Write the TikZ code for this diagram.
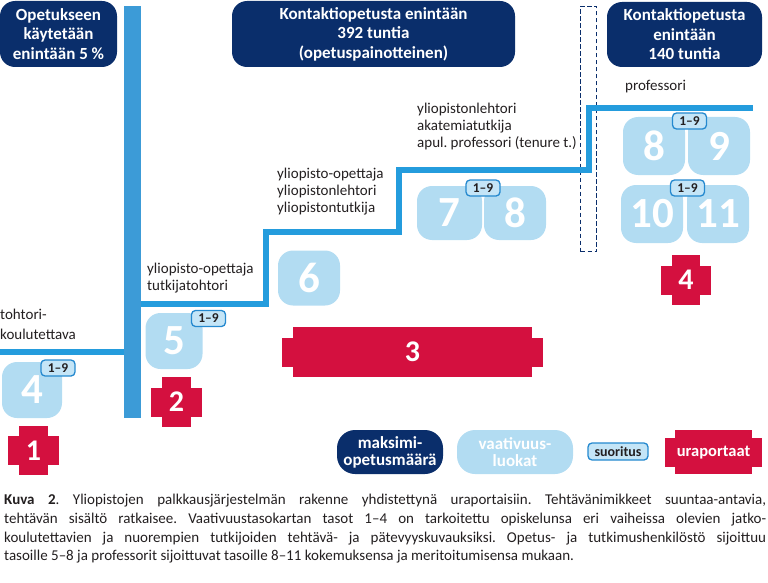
\documentclass[tikz,border=0pt]{standalone}
\usepackage{fontspec}
\setmainfont{Carlito}
\usepackage{tikz}
\usetikzlibrary{positioning,backgrounds,calc}
\definecolor{pknavy}{HTML}{0A2E6B}
\definecolor{pkbar}{HTML}{3C9BD7}
\definecolor{pkline}{HTML}{249CDD}
\definecolor{pklight}{HTML}{B2DCF2}
\definecolor{pktag}{HTML}{C4E5F7}
\definecolor{pktagline}{HTML}{2589CF}
\definecolor{pkred}{HTML}{D4103F}
\definecolor{pkink}{HTML}{231F20}
\frenchspacing

\begin{document}
\begin{tikzpicture}[
    x=1pt,
    y=-1pt,
    font=\fontsize{15}{17}\selectfont,
    header/.style={rectangle, rounded corners=15pt, fill=pknavy, text=white, font=\bfseries\fontsize{17}{19.5}\selectfont, align=center, inner sep=0pt},
    luokka/.style={rectangle, rounded corners=15pt, fill=pklight, text=white, font=\bfseries\fontsize{43}{43}\selectfont, minimum width=62pt, minimum height=57pt, inner sep=0pt},
    suor/.style={rectangle, rounded corners=4pt, draw=pktagline, line width=1.3pt, fill=pktag, text=pkink, font=\bfseries\fontsize{13.5}{14}\selectfont, minimum width=34pt, minimum height=16pt, inner sep=0pt},
    porras/.style={rectangle, fill=pkred, text=white, font=\bfseries\fontsize{30}{30}\selectfont, minimum height=29pt, inner sep=0pt},
    nimike/.style={anchor=west, align=left, inner sep=0pt, text=pkink},
    askel/.style={draw=pkline, line width=6pt}
  ]
    \useasboundingbox (0,0) rectangle (768,583);

    \node[header, minimum width=117pt, minimum height=66pt] (ohje) at (58.5,34) {Opetukseen\\käytetään\\enintään 5 \%};
    \node[header, minimum width=283pt, minimum height=66pt] (kontakti) at (373.5,34) {Kontaktiopetusta enintään\\392 tuntia\\(opetuspainotteinen)};
    \node[header, minimum width=155pt, minimum height=65pt] (profkont) at (684.5,34.5) {Kontaktiopetusta\\enintään\\140 tuntia};

    \node[fill=pkbar, minimum width=17pt, minimum height=412pt, inner sep=0pt] (pylvas) at (132.5,212) {};
    \node[draw=pknavy, dash pattern=on 4.5pt off 2.5pt, line width=1.6pt, minimum width=16pt, minimum height=245pt, inner sep=0pt] (raja) at (588.5,129) {};

    \draw[askel] (0,352) -- (pylvas.west |- 0,352);
    \draw[askel] (pylvas.east |- 0,304) -- (266,304) -- (266,232) -- (399,232) -- (399,170) -- (589,170) -- (589,108) -- (753,108);

    \node[nimike, font=\fontsize{15}{20}\selectfont] (nimi4) at (0,324) {tohtori-\\koulutettava};
    \node[nimike] (nimi5) at (147,278) {yliopisto-opettaja\\tutkijatohtori};
    \node[nimike] (nimi6) at (277,192) {yliopisto-opettaja\\yliopistonlehtori\\yliopistontutkija};
    \node[nimike] (nimi7) at (417,127) {yliopistonlehtori\\akatemiatutkija\\apul. professori (tenure t.)};
    \node[nimike] (nimi8) at (625,87) {professori};

    \node[luokka, minimum width=60pt, minimum height=56pt] (l4) at (32,390) {4};
    \node[luokka, minimum width=57pt, minimum height=56pt] (l5) at (174,341) {5};
    \node[luokka, minimum height=55pt] (l6) at (309,278) {6};
    \node[luokka, minimum width=65pt, minimum height=54pt] (l7) at (449.5,213) {7};
    \node[luokka, minimum height=54pt] (l8) at (515,213) {8};
    \node[luokka, minimum height=58pt] (p8) at (654,146) {8};
    \node[luokka, minimum height=58pt] (p9) at (719,146) {9};
    \node[luokka, minimum height=58pt] (p10) at (652,214) {10};
    \node[luokka, minimum height=58pt] (p11) at (718,214) {11};

    \node[suor] (s4) at (58,368) {1–9};
    \node[suor] (s5) at (208.5,318.5) {1–9};
    \node[suor] (s7) at (483,188) {1–9};
    \node[suor] (s8) at (689.5,121) {1–9};
    \node[suor] (s10) at (687.5,188) {1–9};

    \node[porras, minimum width=51pt] (u1) at (33.5,450.5) {1};
    \node[porras, minimum width=51pt] (u2) at (176.5,402) {2};
    \node[porras, minimum width=261pt] (u3) at (412.5,352) {3};
    \node[porras, minimum width=50pt] (u4) at (686,280) {4};

    \node[header, rounded corners=18pt, minimum width=106pt, minimum height=44pt, font=\bfseries\fontsize{17}{17}\selectfont] (lmaks) at (390,452) {maksimi-\\opetusmäärä};
    \node[header, fill=pklight, rounded corners=18pt, minimum width=116pt, minimum height=44pt, font=\bfseries\fontsize{17}{17}\selectfont] (lvaat) at (515,452) {vaativuus-\\luokat};
    \node[suor, minimum width=60pt, minimum height=17pt, font=\bfseries\fontsize{14}{14}\selectfont] (lsuor) at (618,451.5) {suoritus};
    \node[porras, minimum width=97pt, font=\bfseries\fontsize{16.5}{16.5}\selectfont] (lura) at (713.5,452.5) {uraportaat};

    \begin{scope}[on background layer]
      \foreach \u in {u1,u2,u3,u4}
        \fill[pkred] ([xshift=11pt,yshift=10pt]\u.north west) rectangle ([xshift=-11pt,yshift=-10pt]\u.south east);
      \fill[pkred] ([xshift=10pt,yshift=8pt]lura.north west) rectangle ([xshift=-10pt,yshift=-7pt]lura.south east);
    \end{scope}

    \node[anchor=north west, inner sep=0pt, text width=762pt, align=justify, text=pkink, font=\fontsize{15}{18.7}\selectfont] (kuva) at (4,494) {\textbf{Kuva 2}. Yliopistojen palkkausjärjestelmän rakenne yhdistettynä uraportaisiin. Tehtävänimikkeet suuntaa-antavia,\linebreak tehtävän sisältö ratkaisee. Vaativuustasokartan tasot 1–4 on tarkoitettu opiskelunsa eri vaiheissa olevien jatko-\linebreak koulutettavien ja nuorempien tutkijoiden tehtävä- ja pätevyyskuvauksiksi. Opetus- ja tutkimushenkilöstö sijoittuu\linebreak tasoille 5–8 ja professorit sijoittuvat tasoille 8–11 kokemuksensa ja meritoitumisensa mukaan.};
  \end{tikzpicture}
\end{document}
